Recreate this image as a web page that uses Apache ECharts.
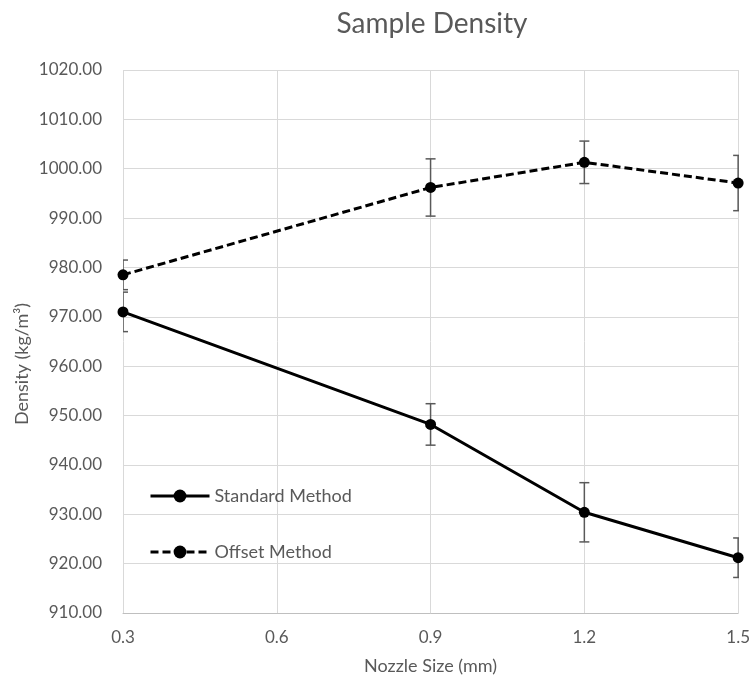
<!DOCTYPE html>
<html><head><meta charset="utf-8">
<script src="https://cdn.jsdelivr.net/npm/echarts@6/dist/echarts.min.js"></script>
<style>html,body{margin:0;padding:0;background:#fff}#c{width:753px;height:683px}</style>
</head><body><div id="c"></div>
<script>
const nozzle = [0.3, 0.9, 1.2, 1.5];
const standardVals = [971.0, 948.2, 930.4, 921.2];
const standardErr = [4.0, 4.2, 6.0, 4.0];
const offsetVals = [978.5, 996.2, 1001.3, 997.1];
const offsetErr = [3.0, 5.8, 4.3, 5.6];
const xTicks = [0.3, 0.6, 0.9, 1.2, 1.5];
const yTicks = [910, 1020, 10];

const font = 'Lato, "Open Sans", sans-serif';
const txt = '#595959';

function errSeries(vals, errs) {
  return {
    type: 'custom', silent: true, z: 1, clip: true,
    data: nozzle.map((x, i) => [x, vals[i] - errs[i], vals[i] + errs[i]]),
    renderItem: function (params, api) {
      const lo = api.coord([api.value(0), api.value(1)]);
      const hi = api.coord([api.value(0), api.value(2)]);
      const w = 5;
      const st = {stroke: '#595959', lineWidth: 1.5};
      return {type: 'group', children: [
        {type: 'line', shape: {x1: lo[0], y1: lo[1], x2: hi[0], y2: hi[1]}, style: st},
        {type: 'line', shape: {x1: lo[0] - w, y1: lo[1], x2: lo[0] + w, y2: lo[1]}, style: st},
        {type: 'line', shape: {x1: hi[0] - w, y1: hi[1], x2: hi[0] + w, y2: hi[1]}, style: st}
      ]};
    }
  };
}

const chart = echarts.init(document.getElementById('c'));
chart.setOption({
  animation: false,
  title: {text: 'Sample Density', left: 427, top: 5, textAlign: 'center',
    textStyle: {fontFamily: font, fontSize: 28, fontWeight: 'normal', color: txt}},
  grid: {left: 123, right: 14, top: 70, bottom: 70},
  graphic: [{
    type: 'text', x: 22, y: 364, rotation: Math.PI / 2,
    style: {text: 'Density (kg/m³)', fontFamily: font, fontSize: 18, fill: txt,
      align: 'center', verticalAlign: 'middle'}
  }],
  legend: {
    orient: 'vertical', left: 144, top: 482, itemGap: 38, itemWidth: 59, itemHeight: 16,
    data: ['Standard Method', 'Offset Method'],
    lineStyle: {width: 3},
    textStyle: {fontFamily: font, fontSize: 18, color: txt}
  },
  xAxis: {
    type: 'value', min: xTicks[0], max: xTicks[xTicks.length - 1], interval: 0.3,
    name: 'Nozzle Size (mm)', nameLocation: 'middle', nameGap: 44,
    nameTextStyle: {fontFamily: font, fontSize: 18, color: txt},
    axisLine: {lineStyle: {color: '#bfbfbf', width: 1}}, axisTick: {show: false},
    axisLabel: {margin: 16, fontFamily: font, fontSize: 17, color: txt,
      formatter: v => v.toFixed(1)},
    splitLine: {show: true, lineStyle: {color: '#d9d9d9', width: 1}}
  },
  yAxis: {
    type: 'value', min: yTicks[0], max: yTicks[1], interval: yTicks[2],
    axisLine: {show: false}, axisTick: {show: false},
    axisLabel: {margin: 21, fontFamily: font, fontSize: 17, color: txt,
      formatter: v => v.toFixed(2)},
    splitLine: {lineStyle: {color: '#d9d9d9', width: 1}}
  },
  series: [
    errSeries(standardVals, standardErr),
    errSeries(offsetVals, offsetErr),
    {name: 'Standard Method', type: 'line', z: 3,
      data: nozzle.map((x, i) => [x, standardVals[i]]),
      symbol: 'circle', symbolSize: 11, showAllSymbol: true,
      lineStyle: {color: '#000', width: 3},
      itemStyle: {color: '#000'}},
    {name: 'Offset Method', type: 'line', z: 3,
      data: nozzle.map((x, i) => [x, offsetVals[i]]),
      symbol: 'circle', symbolSize: 11, showAllSymbol: true,
      lineStyle: {color: '#000', width: 3, type: [8, 4]},
      itemStyle: {color: '#000'}}
  ]
});
</script></body></html>
